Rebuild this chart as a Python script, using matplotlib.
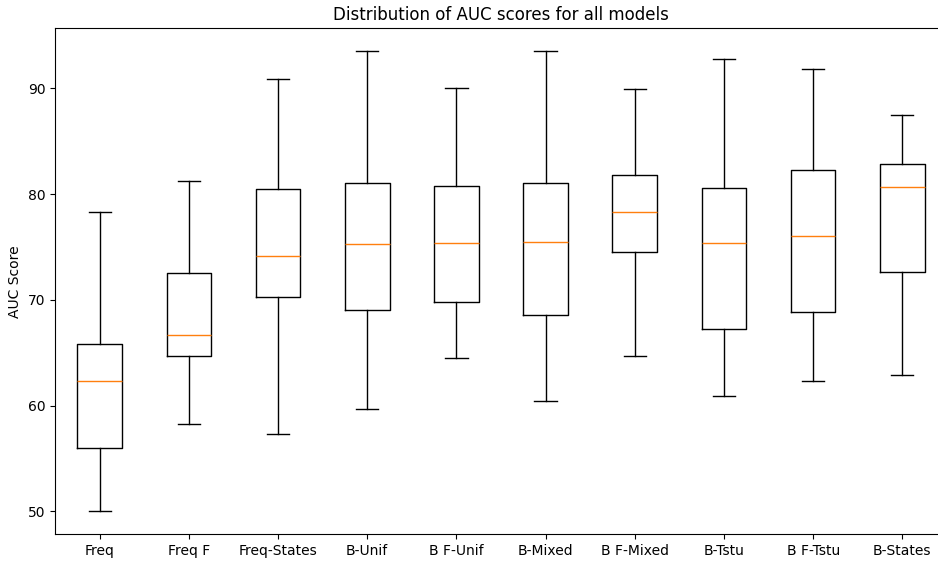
import matplotlib
matplotlib.use("Agg")
import matplotlib.pyplot as plt

# AUC score summaries
models = ["Freq", "Freq F", "Freq-States", "B-Unif", "B F-Unif",
          "B-Mixed", "B F-Mixed", "B-Tstu", "B F-Tstu", "B-States"]
whislo = [50.0, 58.3, 57.3, 59.7, 64.5, 60.4, 64.7, 60.9, 62.3, 62.9]
q1 =     [56.0, 64.7, 70.3, 69.0, 69.8, 68.6, 74.5, 67.2, 68.8, 72.6]
med =    [62.3, 66.7, 74.1, 75.3, 75.4, 75.5, 78.3, 75.4, 76.0, 80.7]
q3 =     [65.8, 72.5, 80.5, 81.0, 80.8, 81.0, 81.8, 80.6, 82.3, 82.8]
whishi = [78.3, 81.2, 90.9, 93.5, 90.0, 93.5, 89.9, 92.8, 91.8, 87.5]

stats = []
for i, name in enumerate(models):
    stats.append({"label": name, "whislo": whislo[i], "q1": q1[i], "med": med[i],
                  "q3": q3[i], "whishi": whishi[i], "fliers": []})

fig = plt.figure(figsize=(9.38, 5.61), dpi=100)
# axes runs a bit past the right edge, as in the reference
ax = fig.add_axes([55.1 / 938, 26.7 / 561, 891.8 / 938, 506.0 / 561])
ax.bxp(stats, showfliers=False)

ax.set_title("Distribution of AUC scores for all models")
ax.set_ylabel("AUC Score")

fig.savefig("out.png", dpi=100)
plt.close(fig)
